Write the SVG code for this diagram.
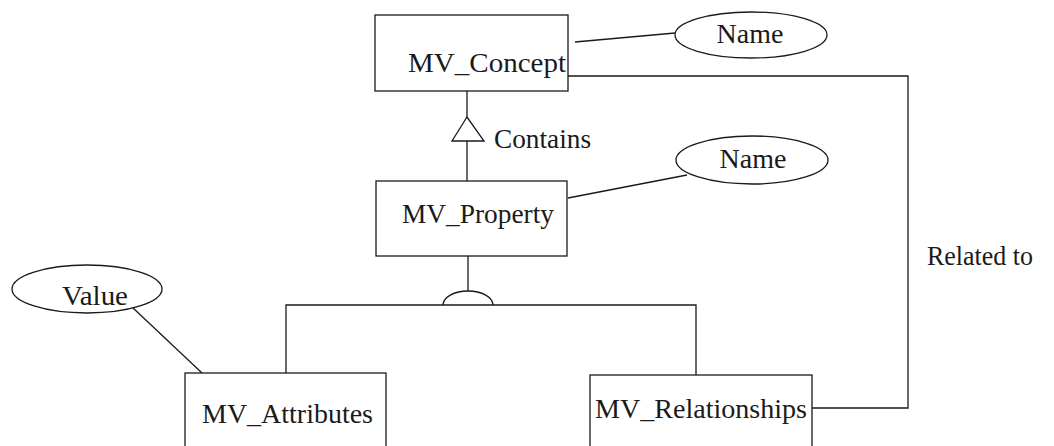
<svg xmlns="http://www.w3.org/2000/svg" width="1054" height="446" viewBox="0 0 1054 446">
  <style>
    .box { fill: #ffffff; stroke: #1a1a1a; stroke-width: 1.3; }
    .attr { fill: #ffffff; stroke: #1a1a1a; stroke-width: 1.3; }
    .lbl { font-family: "Liberation Serif", "Times New Roman", serif; font-size: 28px; fill: #1a1a1a; }
    .mid { text-anchor: middle; }
    .wire { fill: none; stroke: #1a1a1a; stroke-width: 1.3; }
  </style>
  <rect width="1054" height="446" fill="#ffffff"/>

  <g id="connectors">
    <!-- attribute links -->
    <line class="wire" x1="575" y1="42" x2="675" y2="33"/>
    <line class="wire" x1="568" y1="198" x2="687" y2="175"/>
    <line class="wire" x1="132" y1="307" x2="202" y2="373"/>
    <!-- Contains: MV_Concept to MV_Property with hollow triangle -->
    <line class="wire" x1="467" y1="91" x2="467" y2="117"/>
    <polygon class="wire" points="467,117 452,141 484,141"/>
    <line class="wire" x1="467" y1="141" x2="467" y2="181"/>
    <!-- specialisation of MV_Property -->
    <line class="wire" x1="468" y1="256" x2="468" y2="291"/>
    <path class="wire" d="M443,305 A25,14 0 0 1 493,305"/>
    <polyline class="wire" points="286,373 286,305 696,305 696,375"/>
    <!-- Related to -->
    <polyline class="wire" points="568,76 908,76 908,408 812,408"/>
    <text class="lbl" x="927" y="265" textLength="106" lengthAdjust="spacingAndGlyphs">Related to</text>
  </g>

  <g id="mv-concept">
    <rect class="box" x="375" y="15" width="193" height="76"/>
    <text class="lbl" x="408" y="72" textLength="158" lengthAdjust="spacingAndGlyphs">MV_Concept</text>
  </g>

  <g id="concept-name">
    <ellipse class="attr" cx="751" cy="35" rx="76" ry="23"/>
    <text class="lbl mid" x="750" y="43">Name</text>
  </g>

  <g id="contains-label">
    <text class="lbl" x="494" y="148" textLength="97" lengthAdjust="spacingAndGlyphs">Contains</text>
  </g>

  <g id="mv-property">
    <rect class="box" x="376" y="181" width="191" height="75"/>
    <text class="lbl" x="402" y="223" textLength="152" lengthAdjust="spacingAndGlyphs">MV_Property</text>
  </g>

  <g id="property-name">
    <ellipse class="attr" cx="752" cy="160" rx="76" ry="24"/>
    <text class="lbl mid" x="753" y="168">Name</text>
  </g>

  <g id="attr-value">
    <ellipse class="attr" cx="87" cy="289" rx="75" ry="24"/>
    <text class="lbl" x="62" y="305" textLength="66" lengthAdjust="spacingAndGlyphs">Value</text>
  </g>

  <g id="mv-attributes">
    <rect class="box" x="185" y="373" width="201" height="80"/>
    <text class="lbl" x="202" y="423" textLength="171" lengthAdjust="spacingAndGlyphs">MV_Attributes</text>
  </g>

  <g id="mv-relationships">
    <rect class="box" x="590" y="375" width="222" height="80"/>
    <text class="lbl" x="595" y="418" textLength="212" lengthAdjust="spacingAndGlyphs">MV_Relationships</text>
  </g>
</svg>
